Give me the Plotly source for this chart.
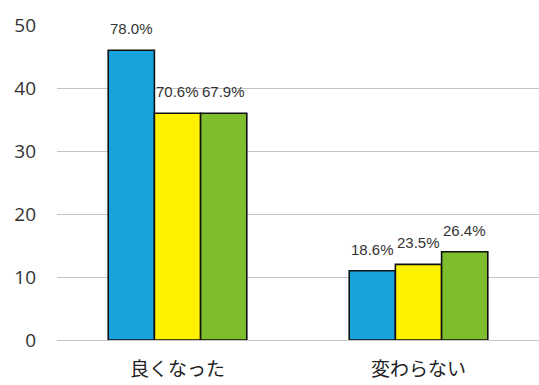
import plotly.graph_objects as go

# Survey responses per category (counts) and their share labels
categories = ["良くなった", "変わらない"]
series_names = ["系列1", "系列2", "系列3"]
values_1 = [46, 11]
values_2 = [36, 12]
values_3 = [36, 14]
labels_1 = ["78.0%", "18.6%"]
labels_2 = ["70.6%", "23.5%"]
labels_3 = ["67.9%", "26.4%"]
y_ticks = [0, 10, 20, 30, 40, 50]

colors = ["#18a3dc", "#fff200", "#7dbd2e"]
series = [values_1, values_2, values_3]
labels = [labels_1, labels_2, labels_3]

BARGAP = 0.425
n_series = len(series)
bar_w = (1 - BARGAP) / n_series

fig = go.Figure()
for k, (name, vals) in enumerate(zip(series_names, series)):
    fig.add_trace(go.Bar(
        x=categories, y=vals, name=name,
        marker=dict(color=colors[k], line=dict(color="#111111", width=1.6)),
        hoverinfo="skip",
    ))

# Percentage labels above each bar
annotations = []
for k, (vals, labs) in enumerate(zip(series, labels)):
    for i, (v, t) in enumerate(zip(vals, labs)):
        annotations.append(dict(
            x=i + (k - (n_series - 1) / 2) * bar_w, y=v,
            xref="x", yref="y", text=t, showarrow=False,
            yanchor="bottom", yshift=11,
            font=dict(family="Liberation Sans, Arial, sans-serif",
                      size=15, color="#333333"),
        ))

fig.update_layout(
    width=539, height=385,
    margin=dict(l=57, r=0, t=25, b=45),
    paper_bgcolor="white", plot_bgcolor="white",
    barmode="group", bargap=BARGAP, bargroupgap=0,
    showlegend=False,
    annotations=annotations,
    xaxis=dict(
        type="category", showgrid=False, showline=False, ticks="",
        tickfont=dict(family="Noto Sans CJK JP", size=19, color="#222222"),
        ticklabelstandoff=16, automargin=False,
    ),
    yaxis=dict(
        range=[0, 50], tickvals=y_ticks, showgrid=True,
        gridcolor="#c4c4c4", gridwidth=1, zeroline=True, zerolinecolor="#c4c4c4",
        zerolinewidth=1, showline=False, ticks="",
        tickfont=dict(family="Open Sans", size=19, color="#333333"),
        ticklabelstandoff=20, automargin=False,
    ),
)

fig.write_html("out.html")
